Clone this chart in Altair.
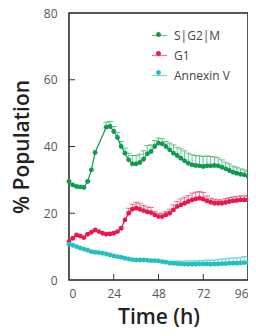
import altair as alt
import pandas as pd

# ---- data ----
series_names = ["S|G2|M", "G1", "Annexin V"]
series_colors = ["#0f9b4e", "#e8194c", "#24bfc0"]

t_sg2m = [0, 2, 4, 6, 8, 10, 12, 14, 20, 22, 24, 26, 28, 30, 32, 34, 36, 38, 40, 42, 44, 46,
          48, 50, 52, 54, 56, 58, 60, 62, 64, 66, 68, 70, 72, 74, 76, 78, 80, 82, 84, 86,
          88, 90, 92, 94, 96]
v_sg2m = [29.5, 28.5, 28.0, 27.9, 27.7, 29.5, 33.0, 38.2, 45.8, 46.0, 44.5, 42.7, 40.0, 38.0,
          36.0, 34.8, 34.8, 35.2, 36.2, 37.8, 38.5, 40.0, 41.0, 40.8, 40.0, 39.0, 38.0, 37.3,
          36.5, 35.7, 35.0, 34.5, 34.3, 34.2, 34.0, 34.2, 34.2, 34.3, 34.2, 33.8, 33.3, 32.8,
          32.3, 32.0, 31.7, 31.5, 31.0]
e_sg2m = [0, 0, 0, 0, 0, 0, 0, 0, 1.5, 1.5, 1.5, 1.5, 1.5, 1.5, 2.0, 2.5, 2.5, 2.5, 2.5, 2.5,
          2.0, 1.8, 1.5, 1.5, 1.5, 2.0, 2.5, 2.5, 2.8, 3.0, 3.0, 3.0, 3.0, 3.0, 3.0, 3.0, 2.8,
          2.6, 2.4, 2.2, 2.0, 2.0, 1.8, 1.8, 1.6, 1.5, 1.5]

t_g1 = list(range(0, 97, 2))
v_g1 = [11.5, 12.5, 13.5, 13.2, 12.7, 13.7, 14.3, 15.0, 14.5, 14.0, 13.7, 13.8, 14.0, 14.5,
        15.5, 18.0, 20.0, 21.2, 21.5, 21.2, 20.8, 20.4, 20.2, 19.5, 19.0, 19.0, 19.5, 20.0,
        21.0, 22.0, 22.5, 23.0, 23.5, 24.0, 24.3, 24.5, 24.2, 23.7, 23.3, 23.0, 23.0, 23.0,
        23.2, 23.5, 23.7, 23.8, 24.0, 24.0, 24.0]
e_g1 = [0, 0, 0, 0, 0, 0, 0, 0, 0, 0, 0, 0, 0, 0, 0, 0, 1.5, 1.5, 1.8, 1.8, 1.5, 1.5, 1.5,
        1.0, 1.0, 1.0, 1.0, 1.2, 1.5, 1.5, 1.8, 1.8, 1.8, 2.0, 2.0, 2.0, 2.0, 1.5, 1.2, 1.2,
        1.0, 1.0, 1.2, 1.2, 1.2, 1.2, 1.2, 1.2, 1.2]

t_ann = list(range(0, 97, 2))
v_ann = [10.7, 10.4, 10.0, 9.6, 9.2, 8.9, 8.5, 8.3, 8.2, 8.0, 7.8, 7.5, 7.2, 7.0, 6.8, 6.5,
         6.3, 6.1, 6.0, 6.0, 6.0, 5.9, 5.8, 5.8, 5.7, 5.5, 5.3, 5.1, 5.0, 4.9, 4.8, 4.7,
         4.7, 4.7, 4.7, 4.8, 4.8, 4.8, 4.7, 4.8, 4.8, 4.9, 4.9, 5.0, 5.0, 5.0, 5.1, 5.2, 5.2]
e_ann = [0, 0, 0, 0, 0, 0, 0, 0, 0, 0, 0, 0, 0, 0, 0, 0, 0, 0, 0, 0, 0, 0, 0, 0, 0, 0, 0,
         0, 0.6, 0.8, 0.8, 1.0, 1.0, 1.0, 1.0, 1.0, 1.0, 1.2, 1.2, 1.2, 1.3, 1.4, 1.4, 1.5,
         1.6, 1.6, 1.7, 1.8, 1.8]

x_ticks = [0, 24, 48, 72, 96]
y_ticks = [0, 20, 40, 60, 80]
x_inner_ticks = [24, 48, 72]
y_inner_ticks = [20, 40, 60]

rows = []
for name, ts, vs, es in [(series_names[0], t_sg2m, v_sg2m, e_sg2m),
                         (series_names[1], t_g1, v_g1, e_g1),
                         (series_names[2], t_ann, v_ann, e_ann)]:
    for t, v, e in zip(ts, vs, es):
        rows.append({"series": name, "series_pt": name, "t": t, "v": v, "err": e, "hi": v + e})
df = pd.DataFrame(rows)

W, H = 179, 267
FONT = "Open Sans"
LX, LY = 82, 14
SYM = 225

xs = alt.Scale(domain=[0, 96], nice=False, zero=False)
ys = alt.Scale(domain=[0, 80], nice=False)
cscale = alt.Scale(domain=series_names, range=series_colors)

x_enc = alt.X("t:Q", scale=xs,
              axis=alt.Axis(values=x_ticks, title="Time (h)", ticks=False, domain=False,
                            grid=False, labelPadding=8, titlePadding=7, format="d"))
y_enc = alt.Y("v:Q", scale=ys,
              axis=alt.Axis(values=y_ticks, title="% Population", ticks=False, domain=False,
                            grid=False, labelPadding=12, titlePadding=11))

line_legend = alt.Legend(
    orient="none", legendX=LX, legendY=LY, title=None, symbolType="stroke",
    symbolSize=SYM, symbolStrokeWidth=1.2, labelFontSize=12,
    labelColor="#444", labelFont=FONT, rowPadding=5, labelOffset=6)
color_enc = alt.Color("series:N", scale=cscale, legend=line_legend)

lines = alt.Chart(df).mark_line(strokeWidth=1.2).encode(x=x_enc, y=y_enc, color=color_enc)

errdf = alt.Chart(df).transform_filter("datum.err > 0")
err_rule = errdf.mark_rule(strokeWidth=1, opacity=0.6).encode(
    x=x_enc, y=y_enc, y2="hi:Q", color=color_enc)
err_cap = errdf.mark_tick(thickness=1, size=6, orient="horizontal", opacity=0.6).encode(
    x=alt.X("t:Q", scale=xs), y=alt.Y("hi:Q", scale=ys), color=color_enc)

pt_legend = alt.Legend(
    orient="none", legendX=LX, legendY=LY, title=None,
    symbolType="M0.33,0A0.33,0.33,0,1,1,-0.33,0A0.33,0.33,0,1,1,0.33,0",
    symbolSize=SYM, symbolStrokeWidth=0, labelFontSize=12, labelOpacity=0,
    labelFont=FONT, rowPadding=5, labelOffset=6)
points = alt.Chart(df).mark_point(filled=True, size=24, opacity=1).encode(
    x=x_enc, y=y_enc,
    fill=alt.Fill("series_pt:N", sort=series_names,
                  scale=alt.Scale(range=series_colors), legend=pt_legend))

xt = alt.Chart(pd.DataFrame({"t": x_inner_ticks})).mark_rule(color="#333", strokeWidth=1).encode(
    x=alt.X("t:Q", scale=xs), y=alt.value(H), y2=alt.value(H - 6))
yt = alt.Chart(pd.DataFrame({"v": y_inner_ticks})).mark_rule(color="#333", strokeWidth=1).encode(
    y=alt.Y("v:Q", scale=ys), x=alt.value(0), x2=alt.value(6))

chart = alt.layer(lines, err_rule, err_cap, points, xt, yt).properties(
    width=W, height=H,
    autosize=alt.AutoSizeParams(type="none"),
    padding={"left": 61, "top": 5, "right": 0, "bottom": 48}
).configure_view(stroke="#222", strokeWidth=1.5).configure_axis(
    labelFont=FONT, labelFontSize=12, labelColor="#555",
    titleFont=FONT, titleFontSize=21, titleFontWeight=600, titleColor="#222"
)

chart.save("out.html", embed_options={"renderer": "svg", "actions": False})
